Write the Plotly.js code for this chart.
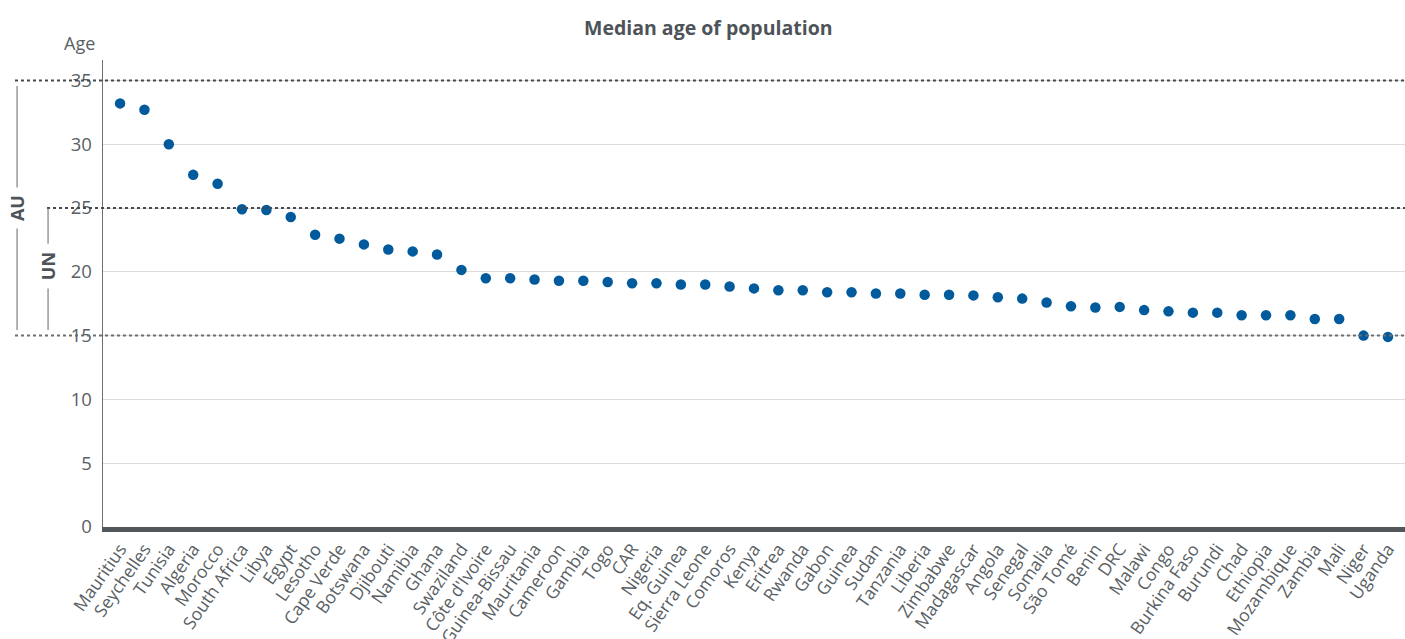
<!DOCTYPE html>
<html>
<head>
<meta charset="utf-8">
<script src="https://cdn.plot.ly/plotly-3.0.1.min.js"></script>
<style>html,body{margin:0;padding:0;background:#fff;}#chart{width:1405px;height:639px;}</style>
</head>
<body>
<div id="chart"></div>
<script>
const countries = ["Mauritius","Seychelles","Tunisia","Algeria","Morocco","South Africa","Libya","Egypt","Lesotho","Cape Verde","Botswana","Djibouti","Namibia","Ghana","Swaziland","Côte d'Ivoire","Guinea-Bissau","Mauritania","Cameroon","Gambia","Togo","CAR","Nigeria","Eq. Guinea","Sierra Leone","Comoros","Kenya","Eritrea","Rwanda","Gabon","Guinea","Sudan","Tanzania","Liberia","Zimbabwe","Madagascar","Angola","Senegal","Somalia","São Tomé","Benin","DRC","Malawi","Congo","Burkina Faso","Burundi","Chad","Ethiopia","Mozambique","Zambia","Mali","Niger","Uganda"];
const medianAge = [33.2,32.7,30.0,27.6,26.9,24.9,24.85,24.3,22.9,22.6,22.15,21.75,21.6,21.35,20.15,19.5,19.5,19.4,19.3,19.3,19.2,19.1,19.1,19.0,19.0,18.85,18.7,18.55,18.55,18.4,18.4,18.3,18.3,18.2,18.2,18.15,18.0,17.9,17.6,17.3,17.2,17.25,17.0,16.9,16.8,16.8,16.6,16.6,16.6,16.3,16.3,15.0,14.9];
const yTicks = [0,5,10,15,20,25,30,35];
const refLevels = [35,25,15];

const grey = '#595f64';
const font = 'Open Sans, Liberation Sans, sans-serif';

const shapes = [];
// reference dotted lines extending into the left margin
const refStart = {35:-0.0676, 25:-0.0430, 15:-0.0676};
refLevels.forEach(v => {
  shapes.push({type:'line', xref:'paper', yref:'y', x0:refStart[v], x1:1, y0:v, y1:v,
    line:{color: v===15 ? '#6a6f74' : '#444a50', width:2, dash:'dot'}, layer:'above'});
});
// AU bracket
shapes.push({type:'line', xref:'paper', yref:'y', x0:-0.066, x1:-0.066, y0:34.56, y1:26.6, line:{color:'#7a7f84', width:1.2}});
shapes.push({type:'line', xref:'paper', yref:'y', x0:-0.066, x1:-0.066, y0:23.4, y1:15.44, line:{color:'#7a7f84', width:1.2}});
// UN bracket
shapes.push({type:'line', xref:'paper', yref:'y', x0:-0.0422, x1:-0.0422, y0:24.98, y1:22.2, line:{color:'#7a7f84', width:1.2}});
shapes.push({type:'line', xref:'paper', yref:'y', x0:-0.0422, x1:-0.0422, y0:18.7, y1:15.44, line:{color:'#7a7f84', width:1.2}});

const annotations = [
  {text:'<b>Median age of population</b>', xref:'paper', yref:'paper', x:0.4647, y:1, yshift:33, showarrow:false,
   font:{family:font, size:19.5, color:'#4d5358'}, xanchor:'center', yanchor:'middle'},
  {text:'Age', xref:'paper', yref:'paper', x:-0.0177, y:1, yshift:17, showarrow:false,
   font:{family:font, size:18, color:'#595f64'}, xanchor:'center', yanchor:'middle'},
  {text:'<b>AU</b>', xref:'paper', yref:'y', x:-0.066, y:25.0, showarrow:false, textangle:-90,
   font:{family:font, size:18, color:'#4d5358'}, xanchor:'center', yanchor:'middle'},
  {text:'<b>UN</b>', xref:'paper', yref:'y', x:-0.0422, y:20.45, showarrow:false, textangle:-90,
   font:{family:font, size:18, color:'#4d5358'}, xanchor:'center', yanchor:'middle'}
];

const trace = {
  type:'scatter', mode:'markers', x:countries, y:medianAge,
  marker:{color:'#005a9c', size:10.5},
  hoverinfo:'x+y', cliponaxis:false
};

const layout = {
  width:1405, height:639,
  margin:{l:103, r:0, t:60, b:112},
  paper_bgcolor:'#ffffff', plot_bgcolor:'#ffffff',
  showlegend:false,
  font:{family:font, color:grey},
  xaxis:{type:'category', range:[-0.7, 52.7], tickangle:-55,
    tickfont:{family:font, size:17.5, color:'#595f64'},
    showgrid:false, zeroline:false, showline:true, linecolor:'#52575c', linewidth:5,
    ticks:'', fixedrange:true},
  yaxis:{range:[0, 36.6], tickvals:yTicks, ticktext:yTicks.map(String),
    tickfont:{family:font, size:18.5, color:'#595f64'},
    showgrid:true, gridcolor:'#dcdcdc', gridwidth:1, zeroline:false,
    showline:true, linecolor:'#6a6f74', linewidth:1.5, ticks:'', ticklen:0,
    ticklabelstandoff:6, fixedrange:true},
  shapes:shapes, annotations:annotations
};

Plotly.newPlot('chart', [trace], layout, {displayModeBar:false, staticPlot:true});
</script>
</body>
</html>
